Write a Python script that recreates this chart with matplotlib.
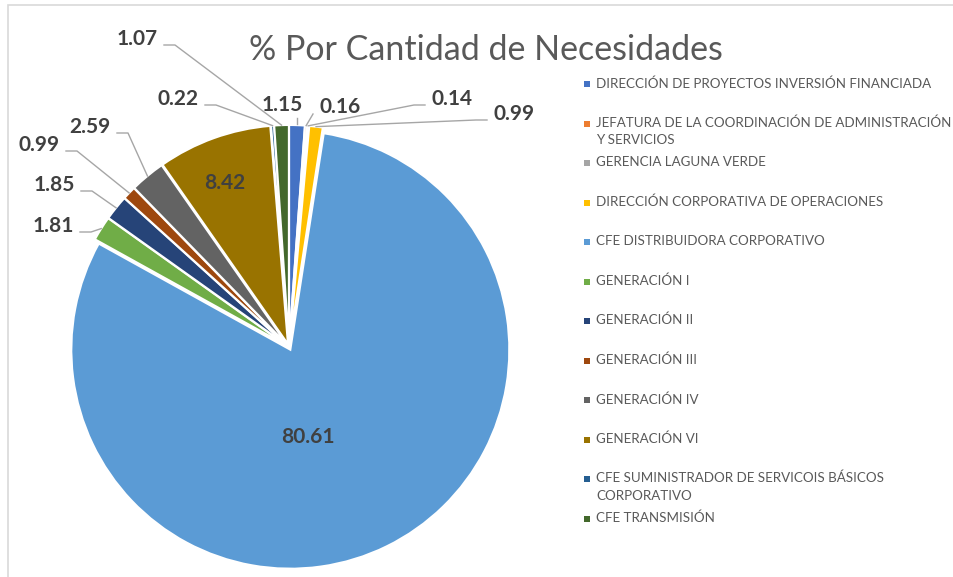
import matplotlib
matplotlib.use("Agg")
import matplotlib.pyplot as plt
from matplotlib.patches import Rectangle
import numpy as np

categories = [
    "DIRECCIÓN DE PROYECTOS INVERSIÓN FINANCIADA",
    "JEFATURA DE LA COORDINACIÓN DE ADMINISTRACIÓN\nY SERVICIOS",
    "GERENCIA LAGUNA VERDE",
    "DIRECCIÓN CORPORATIVA DE OPERACIONES",
    "CFE DISTRIBUIDORA CORPORATIVO",
    "GENERACIÓN I",
    "GENERACIÓN II",
    "GENERACIÓN III",
    "GENERACIÓN IV",
    "GENERACIÓN VI",
    "CFE SUMINISTRADOR DE SERVICOIS BÁSICOS\nCORPORATIVO",
    "CFE TRANSMISIÓN",
]
percentages = [1.15, 0.16, 0.14, 0.99, 80.61, 1.81, 1.85, 0.99, 2.59, 8.42, 0.22, 1.07]
colors = ["#4472C4", "#ED7D31", "#A5A5A5", "#FFC000", "#5B9BD5", "#70AD47",
          "#264478", "#9E480E", "#636363", "#997300", "#255E91", "#43682B"]
title = "% Por Cantidad de Necesidades"

# label placement in pixels from the top-left: (x, y, leader side)
label_pos = [
    (282, 105, "b"), (340, 107, "bl"), (452, 99, "l"), (514, 114, "l"),
    (308, 437, None), (53, 226, "r"), (54, 185, "r"), (39, 145, "r"),
    (90, 127, "r"), (225, 183, None), (178, 99, "r"), (137, 39, "r"),
]

W, H = 954, 577
plt.rcParams["font.family"] = ["Lato", "DejaVu Sans"]

fig = plt.figure(figsize=(W / 100, H / 100), dpi=100)
ax = fig.add_axes([0, 0, 1, 1])

# chart frame
ax.add_patch(Rectangle((8, -10), W + 20, H - 5 + 10, fill=False,
                       edgecolor="#D9D9D9", linewidth=1.2))

cx, cy, R = 289, H - 347, 219
wedges, _ = ax.pie(percentages, colors=colors, startangle=90, counterclock=False,
                   radius=R, center=(cx, cy), explode=[3] * len(percentages),
                   wedgeprops=dict(edgecolor="white", linewidth=1.5), frame=True)
ax.set_xlim(0, W)
ax.set_ylim(0, H)
ax.set_aspect("equal")
ax.axis("off")

lc = "#A6A6A6"
for w, val, (tx, ty, side) in zip(wedges, percentages, label_pos):
    ty = H - ty
    ax.text(tx, ty, f"{val:.2f}", ha="center", va="center", fontsize=15,
            fontweight="bold", color="#404040")
    if side is None:
        continue
    ang = np.deg2rad((w.theta1 + w.theta2) / 2)
    ex = w.center[0] + w.r * np.cos(ang)
    ey = w.center[1] + w.r * np.sin(ang)
    if side == "r":
        sx = tx + 27
        ax.plot([sx, sx + 11, ex], [ty - 6, ty - 6, ey], color=lc, lw=1)
    elif side == "l":
        sx = tx - 27
        ax.plot([sx, sx - 11, ex], [ty - 6, ty - 6, ey], color=lc, lw=1)
    elif side == "b":
        ax.plot([ex, ex], [ey + 1, ty - 13], color=lc, lw=1)
    else:
        ax.plot([tx - 27, ex], [ty - 7, ey], color=lc, lw=1)

ax.text(486, H - 50, title, ha="center", va="center", fontsize=24.5,
        color="#595959")

# legend
for i, (name, c) in enumerate(zip(categories, colors)):
    y = H - (84 + i * 39.5)
    ax.add_patch(Rectangle((584, y - 3), 6, 6, facecolor=c, edgecolor="none"))
    ax.text(596, y + 7, name, ha="left", va="top", fontsize=9.6,
            color="#595959", linespacing=1.5)

fig.savefig("out.png", dpi=100)
